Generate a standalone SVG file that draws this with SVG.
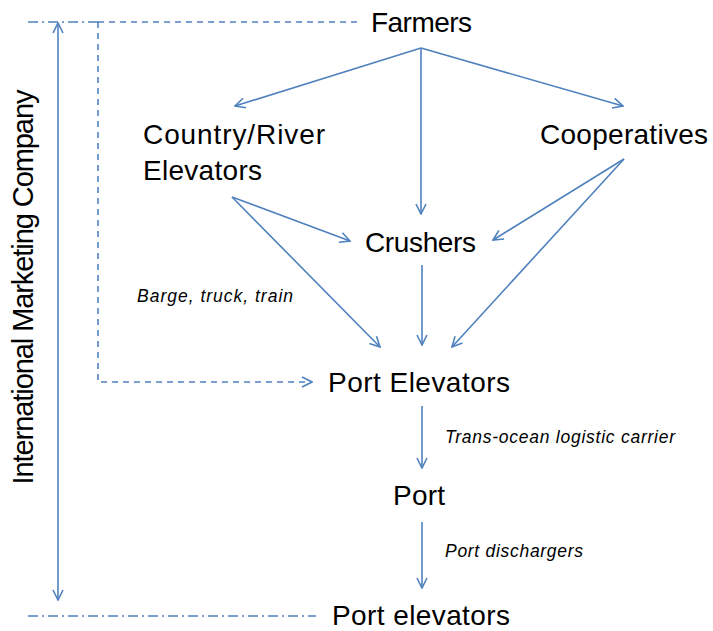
<svg xmlns="http://www.w3.org/2000/svg" width="713" height="631" viewBox="0 0 713 631">
<style>
.n{font-family:"Liberation Sans",Arial,sans-serif;font-size:28px;fill:#000}
.l{font-family:"Liberation Sans",Arial,sans-serif;font-size:17.5px;font-style:italic;fill:#000}
.c{stroke:#4f81bd;stroke-width:1.6;fill:none}
.a{marker-end:url(#ah)}
.d{stroke-dasharray:6,5}
.dd{stroke-dasharray:10,4,2,4}
</style>
<defs>
<marker id="ah" viewBox="0 0 12 12" refX="11" refY="6" markerWidth="12" markerHeight="12" markerUnits="userSpaceOnUse" orient="auto-start-reverse">
<path d="M1,1 L11,6 L1,11" fill="none" stroke="#4f81bd" stroke-width="1.6"/>
</marker>
</defs>
<rect width="713" height="631" fill="#fff"/>
<g id="connectors">
<line class="c dd" x1="28" y1="22" x2="98" y2="22"/>
<line class="c d" x1="98" y1="22" x2="360" y2="22"/>
<polyline class="c d a" points="98,22 98,382 312,382"/>
<line class="c dd" x1="28" y1="616" x2="316" y2="616"/>
<line class="c a" x1="58" y1="600" x2="58" y2="23" marker-start="url(#ah)"/>
<line class="c a" x1="421" y1="48" x2="235" y2="106"/>
<line class="c a" x1="421" y1="48" x2="623" y2="106"/>
<line class="c a" x1="421" y1="48" x2="421" y2="214"/>
<line class="c a" x1="232" y1="197" x2="350" y2="241"/>
<line class="c a" x1="232" y1="197" x2="380" y2="347"/>
<line class="c a" x1="624" y1="159" x2="493" y2="240"/>
<line class="c a" x1="624" y1="159" x2="452" y2="347"/>
<line class="c a" x1="422" y1="265" x2="422" y2="345"/>
<line class="c a" x1="422" y1="406" x2="422" y2="468"/>
<line class="c a" x1="422" y1="522" x2="422" y2="588"/>
</g>
<g id="imc"><text class="n" transform="translate(33,287) rotate(-90)" text-anchor="middle" textLength="395" style="font-size:29px">International Marketing Company</text></g>
<g id="farmers"><text class="n" x="371" y="32" textLength="101">Farmers</text></g>
<g id="country"><text class="n" x="143" y="144" textLength="182">Country/River</text><text class="n" x="143" y="180" textLength="119">Elevators</text></g>
<g id="coop"><text class="n" x="540" y="144" textLength="168">Cooperatives</text></g>
<g id="crushers"><text class="n" x="365" y="252" textLength="111">Crushers</text></g>
<g id="portelev"><text class="n" x="328" y="392" textLength="182">Port Elevators</text></g>
<g id="port"><text class="n" x="393" y="505" textLength="52">Port</text></g>
<g id="portelev2"><text class="n" x="332" y="625" textLength="178">Port elevators</text></g>
<g id="labels">
<text class="l" x="137" y="302" textLength="156">Barge, truck, train</text>
<text class="l" x="445" y="443" textLength="230">Trans-ocean logistic carrier</text>
<text class="l" x="445" y="557" textLength="138">Port dischargers</text>
</g>
</svg>
